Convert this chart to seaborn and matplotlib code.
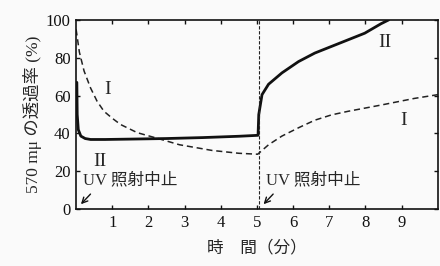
import matplotlib
matplotlib.use("Agg")
import matplotlib.pyplot as plt
import seaborn as sns
import pandas as pd

# curve I (dashed)
t_one = [0, 0.09, 0.22, 0.4, 0.58, 0.77, 1.0, 1.23, 1.69, 2.23, 2.86, 3.76, 4.5,
         5.02, 5.32, 5.69, 6.15, 6.6, 7.06, 7.52, 8.43, 9.35, 10.0]
v_one = [95, 83, 73, 64, 57, 51.7, 48, 44.7, 40.4, 37.5, 34, 31, 29.5,
         29, 34, 38.6, 43, 47, 49.8, 51.7, 55, 58.5, 60.5]

# curve II (solid)
t_two = [0.02, 0.03, 0.06, 0.13, 0.25, 0.4, 0.8, 1.5, 2.5, 3.5, 4.5, 5.03, 5.05,
         5.14, 5.32, 5.69, 6.15, 6.6, 7.06, 7.52, 7.98, 8.43, 8.64]
v_two = [67, 50, 42, 38.6, 37.3, 36.8, 36.8, 37, 37.3, 37.8, 38.5, 39, 50,
         60.5, 66, 72, 78, 82.5, 86, 89.5, 93, 98, 100]

uv_stop = [0.0, 5.05]
x_ticks = [1, 2, 3, 4, 5, 6, 7, 8, 9]
y_ticks = [0, 20, 40, 60, 80, 100]

sns.set_style("ticks")
serif = ["Liberation Serif", "Noto Sans CJK JP"]
cjk = ["Noto Sans CJK JP", "DejaVu Sans"]
plt.rcParams["font.family"] = serif

df_one = pd.DataFrame({"t": t_one, "v": v_one})
df_two = pd.DataFrame({"t": t_two, "v": v_two})

fig = plt.figure(figsize=(4.4, 2.66), dpi=100, facecolor="#fafafa")
ax = fig.add_axes([0.173, 0.214, 0.822, 0.711])
ax.set_facecolor("#fafafa")

sns.lineplot(data=df_one, x="t", y="v", ax=ax, color="#222222", lw=1.1,
             linestyle=(0, (4, 2.5)), sort=False)
sns.lineplot(data=df_two, x="t", y="v", ax=ax, color="#111111", lw=2.0, sort=False)
ax.axvline(uv_stop[1], ymin=0, ymax=1, color="#222222", lw=0.8, linestyle=(0, (3, 1.5)))

ax.set_xlim(0, 10)
ax.set_ylim(0, 100)
ax.set_xticks(x_ticks)
ax.set_yticks(y_ticks)
ax.tick_params(direction="in", top=True, right=True, labelsize=12, length=3,
               width=1, pad=4, colors="#111111")
for s in ax.spines.values():
    s.set_color("#111111")
    s.set_linewidth(1.2)

ax.set_xlabel("時　間（分）", family=cjk, fontsize=12, labelpad=6)
ax.set_ylabel("570 mμ の透過率 (%)", family=serif, fontsize=12.5, labelpad=3)

ax.text(0.88, 63, "I", fontsize=14, ha="center", va="center")
ax.text(0.66, 25, "II", fontsize=14, ha="center", va="center")
ax.text(8.54, 88, "II", fontsize=14, ha="center", va="center")
ax.text(9.04, 47, "I", fontsize=14, ha="center", va="center")

for x0 in uv_stop:
    ax.text(x0 + 0.2, 15, "UV 照射中止", family=serif, fontsize=12,
            ha="left", va="center")
    ax.annotate("", xy=(x0 + 0.08, 1.5), xytext=(x0 + 0.45, 9),
                arrowprops=dict(arrowstyle="->", lw=1, color="#111111"))

fig.savefig("out.png", dpi=100, facecolor=fig.get_facecolor())
